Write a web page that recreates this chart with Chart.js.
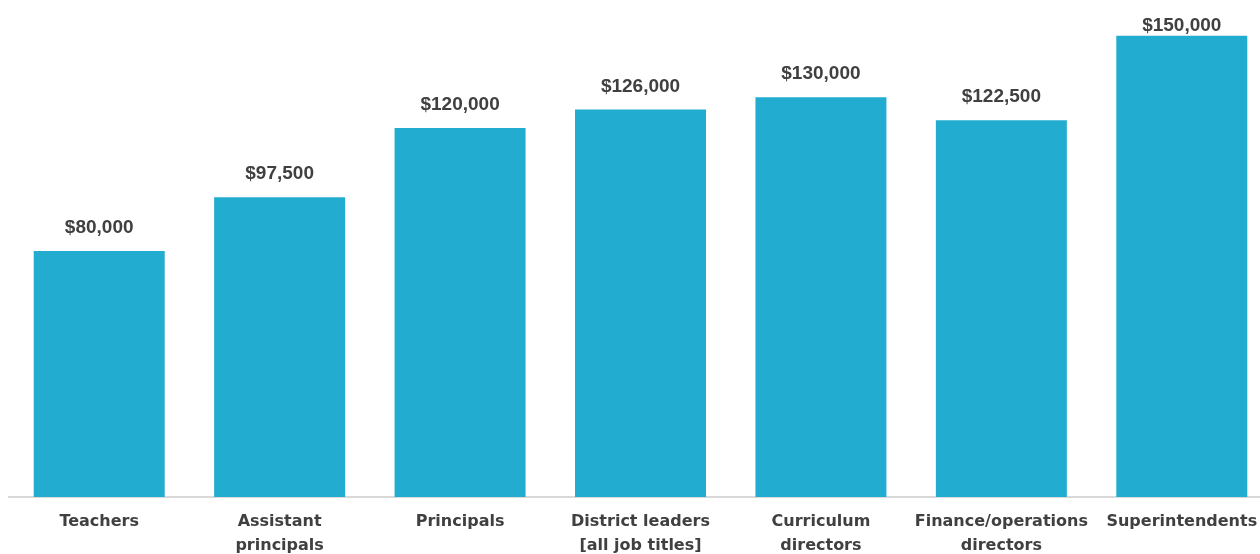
<!DOCTYPE html>
<html>
<head>
<meta charset="utf-8">
<script src="https://cdn.jsdelivr.net/npm/chart.js@4.4.1/dist/chart.umd.min.js"></script>
<style>
  html, body { margin: 0; padding: 0; background: #ffffff; overflow: hidden; }
  #wrap { position: relative; width: 1272px; height: 554px; }
</style>
</head>
<body>
<div id="wrap"><canvas id="c"></canvas></div>
<script>
const categories = [
  ['Teachers'],
  ['Assistant', 'principals'],
  ['Principals'],
  ['District leaders', '[all job titles]'],
  ['Curriculum', 'directors'],
  ['Finance/operations', 'directors'],
  ['Superintendents']
];
const salaries = [80000, 97500, 120000, 126000, 130000, 122500, 150000];
const valueLabels = ['$80,000', '$97,500', '$120,000', '$126,000', '$130,000', '$122,500', '$150,000'];

const valueLabelPlugin = {
  id: 'valueLabels',
  afterDatasetsDraw(chart) {
    const ctx = chart.ctx;
    const meta = chart.getDatasetMeta(0);
    ctx.save();
    ctx.font = 'bold 19px "Liberation Sans", Arial, sans-serif';
    ctx.fillStyle = '#404040';
    ctx.textAlign = 'center';
    ctx.textBaseline = 'alphabetic';
    meta.data.forEach((bar, i) => {
      ctx.fillText(valueLabels[i], bar.x, Math.max(bar.y - 18, 31));
    });
    ctx.restore();
  }
};

new Chart(document.getElementById('c'), {
  type: 'bar',
  data: {
    labels: categories,
    datasets: [{
      data: salaries,
      backgroundColor: '#22acd0',
      borderWidth: 0,
      barPercentage: 0.726,
      categoryPercentage: 1.0
    }]
  },
  options: {
    responsive: true,
    maintainAspectRatio: false,
    animation: false,
    layout: { padding: { left: 9, right: 0, top: 5, bottom: 0 } },
    plugins: { legend: { display: false }, tooltip: { enabled: false } },
    scales: {
      y: {
        display: false,
        min: 0,
        max: 160000
      },
      x: {
        afterFit(scale) { scale.height = 57; },
        grid: { display: false, drawTicks: false },
        border: { display: true, color: '#d9d9d9', width: 2 },
        ticks: {
          color: '#404040',
          font: { family: '"DejaVu Sans", sans-serif', size: 16, weight: 'bold', lineHeight: 1.5 },
          padding: 13,
          maxRotation: 0,
          autoSkip: false
        }
      }
    }
  },
  plugins: [valueLabelPlugin]
});
</script>
</body>
</html>
